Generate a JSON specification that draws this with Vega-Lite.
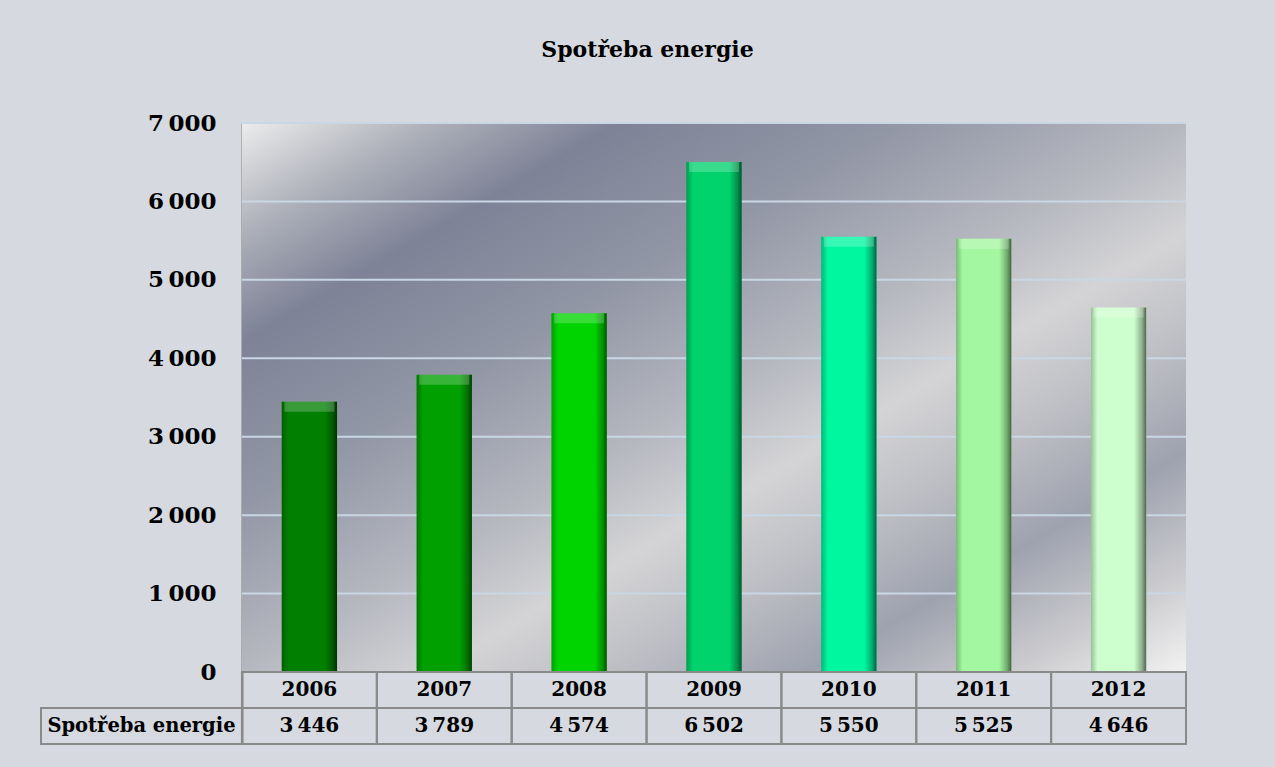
{
  "$schema": "https://vega.github.io/schema/vega-lite/v6.json",
  "autosize": {"type": "none"},
  "width": 1145,
  "height": 621,
  "padding": {"left": 41, "top": 123, "right": 89, "bottom": 23},
  "background": "#d6d9e0",
  "config": {
    "view": {"stroke": null},
    "locale": {"number": {"decimal": ",", "thousands": "\u2009", "grouping": [3], "currency": ["", " Kč"]}}
  },
  "title": {
    "text": "Spotřeba energie",
    "font": "DejaVu Serif",
    "fontSize": 22,
    "fontWeight": "bold",
    "color": "#000000",
    "anchor": "middle",
    "dx": 34,
    "offset": 33,
    "baseline": "alphabetic"
  },
  "datasets": {
    "energy": [
      {"year": "2006", "value": 3446},
      {"year": "2007", "value": 3789},
      {"year": "2008", "value": 4574},
      {"year": "2009", "value": 6502},
      {"year": "2010", "value": 5550},
      {"year": "2011", "value": 5525},
      {"year": "2012", "value": 4646}
    ],
    "grid": [
      {"g": 1000}, {"g": 2000}, {"g": 3000}, {"g": 4000}, {"g": 5000}, {"g": 6000}, {"g": 7000}
    ]
  },
  "resolve": {"scale": {"x": "independent"}},
  "layer": [
    {
      "layer": [
        {
          "data": {"values": [{}]},
          "mark": {
            "type": "rect",
            "fill": {
              "gradient": "linear", "x1": 0, "y1": 0, "x2": 1, "y2": 1,
              "stops": [
                {"offset": 0, "color": "#ececec"},
                {"offset": 0.1, "color": "#aeb1ba"},
                {"offset": 0.2, "color": "#7d8296"},
                {"offset": 0.35, "color": "#9297a6"},
                {"offset": 0.5, "color": "#b6b8c0"},
                {"offset": 0.6, "color": "#d4d4d6"},
                {"offset": 0.7, "color": "#bcbdc3"},
                {"offset": 0.8, "color": "#9ea2af"},
                {"offset": 0.9, "color": "#c8c8cc"},
                {"offset": 1, "color": "#f2f2f2"}
              ]
            }
          },
          "encoding": {
            "x": {"datum": 1.49, "type": "quantitative", "scale": {"domain": [0, 8.49], "nice": false, "zero": false}, "axis": null},
            "x2": {"datum": 8.49},
            "y": {"datum": 0, "type": "quantitative"},
            "y2": {"datum": 7000}
          }
        },
        {
          "data": {"name": "grid"},
          "mark": {"type": "rule", "color": "#c9d6e4", "strokeWidth": 2},
          "encoding": {
            "x": {"datum": 1.49, "type": "quantitative", "axis": null},
            "x2": {"datum": 8.49},
            "y": {"field": "g", "type": "quantitative"}
          }
        },
        {
          "data": {"values": [{}]},
          "mark": {"type": "rect", "fill": null, "stroke": "#8a8a8a", "strokeWidth": 2},
          "encoding": {
            "x": {"datum": 0, "type": "quantitative", "axis": null},
            "x2": {"datum": 1.49},
            "y": {"datum": -459, "type": "quantitative"},
            "y2": {"datum": -918}
          }
        },
        {
          "data": {"values": [{}]},
          "mark": {"type": "text", "font": "DejaVu Serif", "fontSize": 19.5, "fontWeight": "bold", "color": "#000000", "align": "center", "baseline": "middle"},
          "encoding": {
            "x": {"datum": 0.745, "type": "quantitative", "axis": null},
            "y": {"datum": -688, "type": "quantitative"},
            "text": {"value": "Spotřeba energie"}
          }
        }
      ]
    },
    {
      "data": {"name": "energy"},
      "encoding": {
        "x": {
          "field": "year", "type": "nominal",
          "scale": {"type": "band", "paddingInner": 0, "paddingOuter": 0.745, "align": 1},
          "axis": null
        }
      },
      "layer": [
        {
          "mark": {"type": "bar", "width": {"band": 0.41}},
          "encoding": {
            "y": {
              "field": "value", "type": "quantitative",
              "scale": {"domain": [-918, 7000], "nice": false, "zero": false},
              "axis": {
                "title": null,
                "values": [0, 1000, 2000, 3000, 4000, 5000, 6000, 7000],
                "format": ",d",
                "offset": -201,
                "ticks": false,
                "tickSize": 0,
                "labelPadding": 26,
                "grid": false,
                "domain": true,
                "domainColor": "#808080",
                "domainWidth": 2,
                "labelFont": "DejaVu Serif",
                "labelFontSize": 23,
                "labelFontWeight": "bold",
                "labelColor": "#000000"
              }
            },
            "y2": {"datum": 0},
            "color": {
              "field": "year", "type": "nominal", "legend": null,
              "scale": {
                "domain": ["2006", "2007", "2008", "2009", "2010", "2011", "2012"],
                "range": ["#017f01", "#01a001", "#00d400", "#00d26c", "#00f7a0", "#a3f7a0", "#cdfecd"]
              }
            }
          }
        },
        {
          "mark": {
            "type": "bar", "width": {"band": 0.41},
            "fill": {
              "gradient": "linear", "x1": 0, "y1": 0, "x2": 1, "y2": 0,
              "stops": [
                {"offset": 0, "color": "rgba(0,0,0,0.25)"},
                {"offset": 0.12, "color": "rgba(0,0,0,0)"},
                {"offset": 0.78, "color": "rgba(0,0,0,0)"},
                {"offset": 0.92, "color": "rgba(0,0,0,0.3)"},
                {"offset": 1, "color": "rgba(0,0,0,0.6)"}
              ]
            }
          },
          "encoding": {
            "y": {"field": "value", "type": "quantitative"},
            "y2": {"datum": 0}
          }
        },
        {
          "mark": {"type": "tick", "orient": "horizontal", "thickness": 10, "size": 50, "yOffset": 5, "color": "#ffffff", "opacity": 0.22},
          "encoding": {
            "y": {"field": "value", "type": "quantitative"}
          }
        },
        {
          "mark": {"type": "rect", "fill": null, "stroke": "#8a8a8a", "strokeWidth": 2},
          "encoding": {
            "y": {"datum": 0},
            "y2": {"datum": -459}
          }
        },
        {
          "mark": {"type": "rect", "fill": null, "stroke": "#8a8a8a", "strokeWidth": 2},
          "encoding": {
            "y": {"datum": -459},
            "y2": {"datum": -918}
          }
        },
        {
          "mark": {"type": "text", "font": "DejaVu Serif", "fontSize": 20, "fontWeight": "bold", "color": "#000000", "align": "center", "baseline": "middle"},
          "encoding": {
            "y": {"datum": -229},
            "text": {"field": "year"}
          }
        },
        {
          "mark": {"type": "text", "font": "DejaVu Serif", "fontSize": 20, "fontWeight": "bold", "color": "#000000", "align": "center", "baseline": "middle"},
          "encoding": {
            "y": {"datum": -688},
            "text": {"field": "value", "type": "quantitative", "format": ",d"}
          }
        }
      ]
    }
  ]
}
